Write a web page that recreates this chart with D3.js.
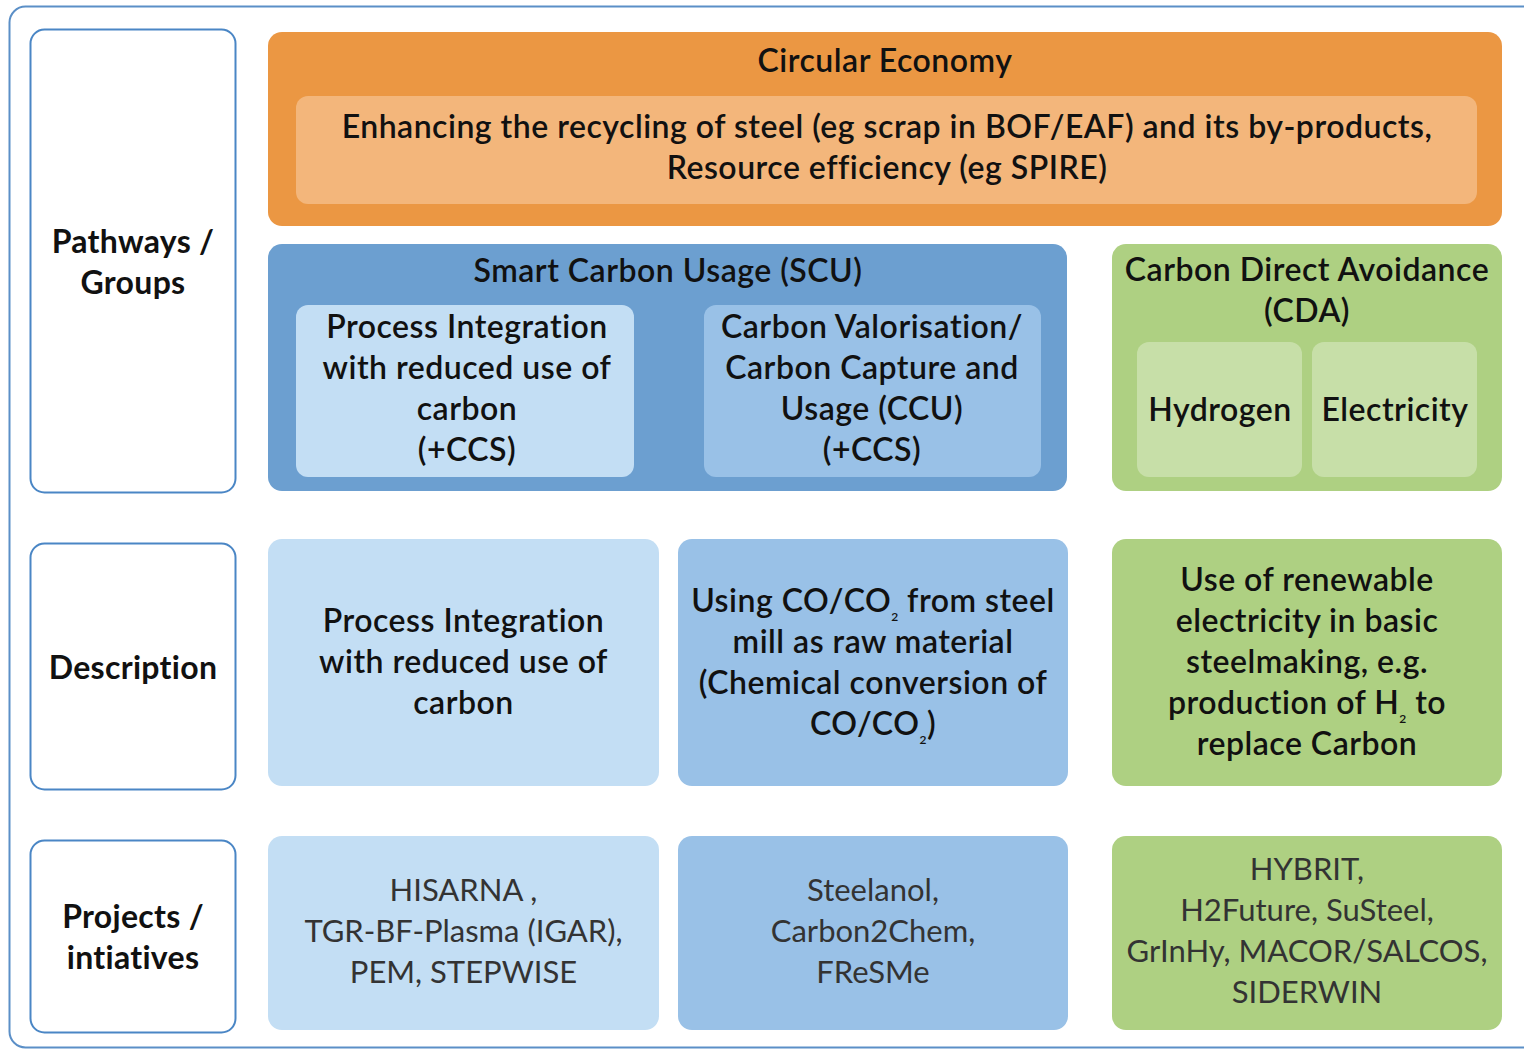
<!DOCTYPE html>
<html>
<head>
<meta charset="utf-8">
<script src="https://cdn.jsdelivr.net/npm/d3@7"></script>
<style>
  html, body { margin: 0; padding: 0; background: #fff; }
  svg { display: block; }
</style>
</head>
<body>
<div id="chart"></div>
<script>
// row labels (left column)
const rowLabels = [
  ["Pathways /", "Groups"],
  ["Description"],
  ["Projects /", "intiatives"]
];

// group headers
const circularTitle = ["Circular Economy"];
const circularText = ["Enhancing the recycling of steel (eg scrap in BOF/EAF) and its by-products,", "Resource efficiency (eg SPIRE)"];
const scuTitle = ["Smart Carbon Usage (SCU)"];
const scuSub = [
  ["Process Integration", "with reduced use of", "carbon", "(+CCS)"],
  ["Carbon Valorisation/", "Carbon Capture and", "Usage (CCU)", "(+CCS)"]
];
const cdaTitle = ["Carbon Direct Avoidance", "(CDA)"];
const cdaSub = [["Hydrogen"], ["Electricity"]];

// description row ("_2" = subscript 2)
const descriptions = [
  ["Process Integration", "with reduced use of", "carbon"],
  ["Using CO/CO_2 from steel", "mill as raw material", "(Chemical conversion of", "CO/CO_2)"],
  ["Use of renewable", "electricity in basic", "steelmaking, e.g.", "production of H_2 to", "replace Carbon"]
];

// projects row
const projects = [
  ["HISARNA ,", "TGR-BF-Plasma (IGAR),", "PEM, STEPWISE"],
  ["Steelanol,", "Carbon2Chem,", "FReSMe"],
  ["HYBRIT,", "H2Future, SuSteel,", "GrInHy, MACOR/SALCOS,", "SIDERWIN"]
];

const W = 1524, H = 1052;
const FONT = "Lato, 'Open Sans', sans-serif";
const LINE = 41;

const svg = d3.select("#chart").append("svg")
  .attr("width", W).attr("height", H);

// 外框
svg.append("rect")
  .attr("x", 9.5).attr("y", 6.5)
  .attr("width", 1540).attr("height", 1041)
  .attr("rx", 16)
  .attr("fill", "none")
  .attr("stroke", "#5b8fc7")
  .attr("stroke-width", 2);

function box(x0, y0, x1, y1, fill, rx, stroke) {
  svg.append("rect")
    .attr("x", x0).attr("y", y0)
    .attr("width", x1 - x0).attr("height", y1 - y0)
    .attr("rx", rx)
    .attr("fill", fill)
    .attr("stroke", stroke || "none")
    .attr("stroke-width", stroke ? 2 : 0);
}

// draws lines centred at cx, first line centre at cy
function lines(arr, cx, cy, opts) {
  const t = svg.append("text")
    .attr("text-anchor", "middle")
    .attr("font-family", FONT)
    .attr("font-size", opts.size || 32)
    .attr("letter-spacing", opts.ls == null ? 0.5 : opts.ls)
    .attr("font-weight", opts.weight || 600)
    .attr("fill", opts.color || "#111");
  arr.forEach((ln, i) => {
    const y = cy + i * (opts.step || LINE);
    const parts = ln.split("_2");
    const tl = t.append("tspan").attr("x", cx).attr("y", y).attr("dy", "0.35em");
    parts.forEach((p, j) => {
      if (j > 0) {
        tl.append("tspan").attr("font-size", 12).attr("dy", 9).text("2");
        tl.append("tspan").attr("dy", -9).text(p);
      } else {
        tl.append("tspan").text(p);
      }
    });
  });
}

// 左欄標籤
const labelRows = [[29, 493], [543, 790], [840, 1033]];
labelRows.forEach((r, i) => {
  box(30.5, r[0] + 0.5, 235.5, r[1] - 0.5, "#fff", 14, "#4a86c5");
  const n = rowLabels[i].length;
  lines(rowLabels[i], 133, (r[0] + r[1]) / 2 - (n - 1) * LINE / 2 + 1, { weight: 700, ls: 0.3 });
});

// Circular Economy
box(268, 32, 1502, 226, "#eb9743", 14);
box(296, 96, 1477, 204, "#f3b67b", 12);
lines(circularTitle, 885, 61, {});
lines(circularText, 887, 127, {});

// SCU
box(268, 244, 1067, 491, "#6c9fd0", 14);
lines(scuTitle, 668, 271, {});
box(296, 305, 634, 477, "#c3def4", 12);
box(704, 305, 1041, 477, "#99c1e7", 12);
lines(scuSub[0], 467, 327, {});
lines(scuSub[1], 872, 327, {});

// CDA
box(1112, 244, 1502, 491, "#aed082", 14);
lines(cdaTitle, 1307, 270, {});
box(1137, 342, 1302, 477, "#c7dfa8", 12);
box(1312, 342, 1477, 477, "#c7dfa8", 12);
lines(cdaSub[0], 1220, 410, {});
lines(cdaSub[1], 1395, 410, {});

// Description row
const cols = [[268, 659, "#c3def4"], [678, 1068, "#99c1e7"], [1112, 1502, "#aed082"]];
cols.forEach((c, i) => {
  box(c[0], 539, c[1], 786, c[2], 14);
  const n = descriptions[i].length;
  lines(descriptions[i], (c[0] + c[1]) / 2, 662 - (n - 1) * LINE / 2, {});
});

// Projects row
cols.forEach((c, i) => {
  box(c[0], 836, c[1], 1030, c[2], 14);
  const n = projects[i].length;
  lines(projects[i], (c[0] + c[1]) / 2, 931 - (n - 1) * LINE / 2, { weight: 400, color: "#333", size: 31, ls: 0 });
});
</script>
</body>
</html>
